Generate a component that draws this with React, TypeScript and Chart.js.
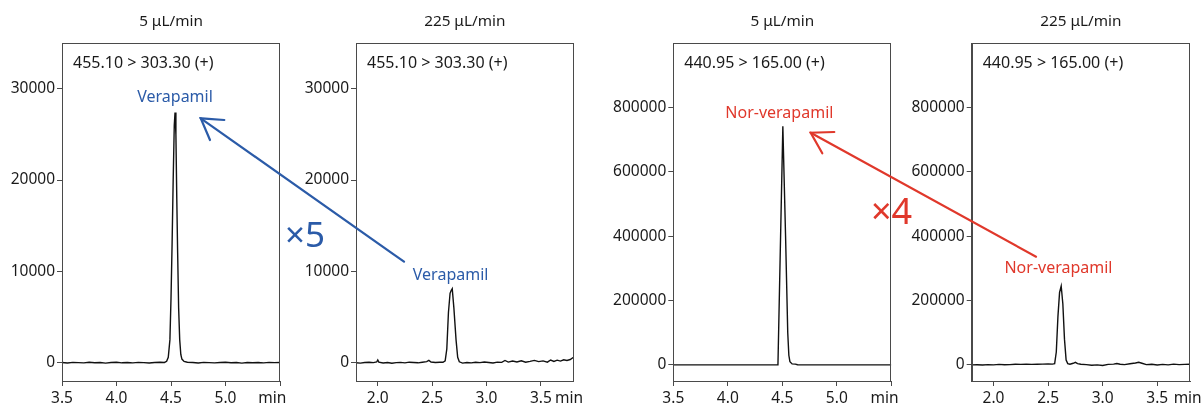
import React, { useEffect, useRef } from "react";
import { Chart, registerables } from "chart.js";

Chart.register(...registerables);

const FONT = "'Noto Sans', 'DejaVu Sans', sans-serif";
const TEXT = "#1a1a1a";
const AXIS = "#4a4a4a";
const BLUE = "#2b5ba8";
const RED = "#e0382b";

// ---------- data ----------
const panelTitles = ["5 μL/min", "225 μL/min", "5 μL/min", "225 μL/min"];
const transitions = ["455.10 > 303.30 (+)", "455.10 > 303.30 (+)", "440.95 > 165.00 (+)", "440.95 > 165.00 (+)"];
const compounds = ["Verapamil", "Verapamil", "Nor-verapamil", "Nor-verapamil"];

const xTicksEarly = [3.5, 4.0, 4.5, 5.0, 5.5];
const xTicksLate = [2.0, 2.5, 3.0, 3.5];
const yTicksVera = [0, 10000, 20000, 30000];
const yTicksNor = [0, 200000, 400000, 600000, 800000];

// Verapamil, 5 µL/min
const vera5Time = [3.50, 3.55, 3.60, 3.65, 3.70, 3.75, 3.80, 3.85, 3.90, 3.95, 4.00, 4.05, 4.10, 4.15, 4.20, 4.25, 4.30, 4.35, 4.40,
  4.44, 4.46, 4.475, 4.49, 4.50, 4.51, 4.52, 4.53, 4.537, 4.545, 4.553, 4.561, 4.57, 4.58, 4.59, 4.60, 4.62, 4.65,
  4.70, 4.75, 4.80, 4.85, 4.90, 4.95, 5.00, 5.05, 5.10, 5.15, 5.20, 5.25, 5.30, 5.35, 5.40, 5.45, 5.50];
const vera5Intensity = [20, -30, 40, 10, -20, 50, 0, 30, -40, 20, 60, -10, 30, -20, 40, 10, -30, 20, 50,
  30, 150, 600, 2500, 7000, 13000, 20000, 26000, 27400, 25000, 18000, 12000, 6000, 2500, 900, 400, 150, 60,
  20, -30, 40, 10, -20, 30, 50, -10, 20, -40, 30, 0, 20, -20, 40, 10, 30];

// Verapamil, 225 µL/min
const vera225Time = [1.80, 1.84, 1.88, 1.92, 1.96, 1.99, 2.00, 2.01,
  2.05, 2.09, 2.13, 2.17, 2.21, 2.25, 2.29, 2.33, 2.37, 2.41, 2.45,
  2.47, 2.49, 2.53, 2.57, 2.60, 2.62, 2.635, 2.65, 2.665, 2.675, 2.685, 2.70, 2.72, 2.735, 2.75,
  2.78, 2.82, 2.86, 2.90, 2.94, 2.98, 3.02, 3.06, 3.10, 3.14, 3.17, 3.20, 3.24, 3.28, 3.32, 3.36, 3.40, 3.44, 3.48, 3.52,
  3.56, 3.59, 3.62, 3.65, 3.68, 3.71, 3.74, 3.77, 3.80];
const vera225Intensity = [0, -40, 30, 60, 10, 80, 300, 60,
  -30, 20, -50, 10, 40, -20, 60, 30, -10, 50, 120,
  250, 80, 20, 60, 50, 200, 1500, 5500, 7600, 7900, 8100, 6000, 2500, 600, 100,
  -40, 30, -20, 50, 10, 80, 20, -30, 60, 40, 250, 70, 180, 90, 220, 60, 150, 260, 120, 200,
  60, 300, 140, 280, 180, 320, 250, 350, 600];

// Nor-verapamil, 5 µL/min
const nor5Time = [3.50, 3.70, 3.90, 4.10, 4.30, 4.40, 4.45, 4.46,
  4.505, 4.53, 4.55, 4.56, 4.57, 4.59, 4.62, 4.64, 4.68,
  4.80, 5.00, 5.20, 5.50];
const nor5Intensity = [0, 0, 0, 0, 0, 0, 0, 0,
  741000, 400000, 100000, 30000, 10000, 3000, 2500, 500, 0,
  0, 0, 0, 0];

// Nor-verapamil, 225 µL/min
const nor225Time = [1.80, 1.85, 1.90, 1.95, 2.00, 2.05, 2.10, 2.15, 2.20, 2.25, 2.30, 2.35, 2.40, 2.45, 2.50,
  2.54, 2.56, 2.575, 2.59, 2.605, 2.62, 2.635, 2.65, 2.665, 2.68, 2.70, 2.73, 2.75, 2.77,
  2.80, 2.85, 2.90, 2.95, 3.00, 3.05, 3.10, 3.13, 3.16, 3.20, 3.25, 3.30, 3.33, 3.36, 3.40, 3.45, 3.50,
  3.55, 3.60, 3.65, 3.70, 3.75, 3.80];
const nor225Intensity = [0, 500, -500, 1000, 0, 1500, 500, 1000, 2000, 1500, 2500, 1500, 2000, 2500, 3000,
  2500, 4000, 40000, 150000, 225000, 245000, 190000, 80000, 15000, 4000, 2000, 5000, 8000, 4000,
  2000, 1000, -1000, 0, -2000, 1500, 2500, 4500, 2000, 1000, 3500, 6000, 8000, 5000, 1000, 2000, -500,
  1500, 0, 2500, 1000, 1500, 2000];

// label anchors in data coordinates [time, intensity]
const compoundLabelAt: [number, number][] = [[4.537, 29000], [2.67, 9600], [4.473, 782000], [2.595, 300000]];
const unitLabelAt = [5.30, 3.63, 5.31, 3.65];

type PanelCfg = {
  idx: number;
  time: number[];
  intensity: number[];
  xMin: number; xMax: number; xTicks: number[];
  yMin: number; yMax: number; yTicks: number[];
  labelColor: string;
  left: number; width: number; yAxisWidth: number; padRight: number;
};

const panels: PanelCfg[] = [
  { idx: 0, time: vera5Time, intensity: vera5Intensity, xMin: 3.5, xMax: 5.5, xTicks: xTicksEarly,
    yMin: -2000, yMax: 35000, yTicks: yTicksVera, labelColor: BLUE, left: 0, width: 300, yAxisWidth: 62, padRight: 20 },
  { idx: 1, time: vera225Time, intensity: vera225Intensity, xMin: 1.8, xMax: 3.8, xTicks: xTicksLate,
    yMin: -2000, yMax: 35000, yTicks: yTicksVera, labelColor: BLUE, left: 300, width: 290, yAxisWidth: 56, padRight: 16.5 },
  { idx: 2, time: nor5Time, intensity: nor5Intensity, xMin: 3.5, xMax: 5.5, xTicks: xTicksEarly,
    yMin: -50000, yMax: 1000000, yTicks: yTicksNor, labelColor: RED, left: 590, width: 310, yAxisWidth: 83.3, padRight: 8.7 },
  { idx: 3, time: nor225Time, intensity: nor225Intensity, xMin: 1.8, xMax: 3.8, xTicks: xTicksLate,
    yMin: -50000, yMax: 1000000, yTicks: yTicksNor, labelColor: RED, left: 900, width: 301, yAxisWidth: 71.7, padRight: 11 },
];

function makeDecor(p: PanelCfg) {
  return {
    id: "decor" + p.idx,
    afterDraw(chart: any) {
      const { ctx, chartArea } = chart;
      const xs = chart.scales.x;
      const ys = chart.scales.y;
      ctx.save();
      // frame
      ctx.strokeStyle = AXIS;
      ctx.lineWidth = 1;
      ctx.strokeRect(Math.round(chartArea.left) + 0.5, Math.round(chartArea.top) + 0.5,
        Math.round(chartArea.right - chartArea.left) - 1, Math.round(chartArea.bottom - chartArea.top));
      // title
      ctx.fillStyle = TEXT;
      ctx.font = `15.3px ${FONT}`;
      ctx.textAlign = "center";
      ctx.textBaseline = "middle";
      ctx.fillText(panelTitles[p.idx], (chartArea.left + chartArea.right) / 2, 22);
      // transition
      ctx.font = `16px ${FONT}`;
      ctx.textAlign = "left";
      ctx.fillText(transitions[p.idx], chartArea.left + 11, 63);
      // compound label
      const [lx, ly] = compoundLabelAt[p.idx];
      ctx.fillStyle = p.labelColor;
      ctx.textAlign = "center";
      ctx.fillText(compounds[p.idx], xs.getPixelForValue(lx), ys.getPixelForValue(ly));
      // unit
      ctx.font = `15.5px ${FONT}`;
      ctx.fillStyle = TEXT;
      ctx.textAlign = "left";
      ctx.fillText("min", xs.getPixelForValue(unitLabelAt[p.idx]), 398.5);
      ctx.restore();
    },
  };
}

function PanelChart({ p }: { p: PanelCfg }) {
  const ref = useRef<HTMLCanvasElement>(null);
  useEffect(() => {
    if (!ref.current) return;
    const data = p.time.map((t, i) => ({ x: t, y: p.intensity[i] }));
    const chart = new Chart(ref.current, {
      type: "line",
      data: {
        datasets: [{
          data,
          borderColor: "#111111",
          borderWidth: 1.4,
          pointRadius: 0,
          tension: 0,
          fill: false,
        }],
      },
      options: {
        animation: false,
        responsive: false,
        events: [],
        layout: { padding: { left: 0, right: p.padRight, top: 43, bottom: 0 } },
        plugins: { legend: { display: false }, title: { display: false }, tooltip: { enabled: false } },
        scales: {
          x: {
            type: "linear",
            min: p.xMin,
            max: p.xMax,
            afterBuildTicks: (s: any) => { s.ticks = p.xTicks.map((v) => ({ value: v })); },
            afterFit: (s: any) => { s.height = 24; },
            ticks: {
              autoSkip: false,
              maxRotation: 0,
              padding: 3.5,
              color: TEXT,
              font: { family: FONT, size: 15.5 },
              callback: (v: any) => (Number(v) === 5.5 ? "" : Number(v).toFixed(1)),
            },
            grid: { drawOnChartArea: false, drawTicks: true, tickLength: 5, color: AXIS },
            border: { display: true, color: AXIS },
          },
          y: {
            type: "linear",
            min: p.yMin,
            max: p.yMax,
            afterBuildTicks: (s: any) => { s.ticks = p.yTicks.map((v) => ({ value: v })); },
            afterFit: (s: any) => { s.width = p.yAxisWidth; },
            ticks: {
              padding: 2,
              color: TEXT,
              font: { family: FONT, size: 15.5 },
              callback: (v: any) => String(v),
            },
            grid: { drawOnChartArea: false, drawTicks: true, tickLength: 5, color: AXIS },
            border: { display: true, color: AXIS },
          },
        },
      },
      plugins: [makeDecor(p)],
    } as any);
    return () => chart.destroy();
  }, [p]);
  return (
    <canvas ref={ref} width={p.width} height={405}
      style={{ position: "absolute", left: p.left, top: 0, width: p.width, height: 405 }} />
  );
}

export default function App() {
  return (
    <div style={{ position: "absolute", left: 0, top: 0, width: 1201, height: 405, background: "#fff", overflow: "hidden" }}>
      {panels.map((p) => <PanelChart key={p.idx} p={p} />)}
      <svg width={1201} height={405} style={{ position: "absolute", left: 0, top: 0, pointerEvents: "none" }}>
        <g stroke={BLUE} strokeWidth={2.2} fill="none" strokeLinecap="round">
          <line x1={404} y1={261.7} x2={200.7} y2={118.3} />
          <polyline points="224.3,120 200.7,118.3 210,140" />
        </g>
        <g stroke={RED} strokeWidth={2.2} fill="none" strokeLinecap="round">
          <line x1={1036} y1={256.7} x2={810.7} y2={132.7} />
          <polyline points="834.3,132 810.7,132.7 822.3,153.3" />
        </g>
        <text x={285} y={246.7} fill={BLUE} fontSize={35} fontFamily="'Noto Sans', sans-serif">×5</text>
        <text x={871} y={224} fill={RED} fontSize={36} fontFamily="'Noto Sans', sans-serif">×4</text>
      </svg>
    </div>
  );
}
